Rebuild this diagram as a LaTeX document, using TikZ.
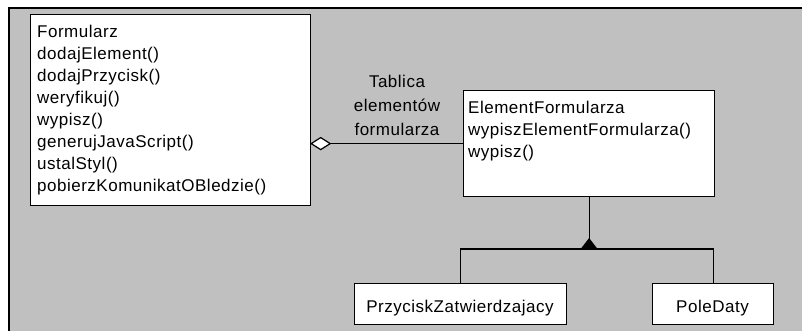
\documentclass[tikz,border=0pt]{standalone}
\usepackage{fontspec}
\setmainfont{Liberation Sans}[LetterSpace=3]
\usetikzlibrary{calc}
\definecolor{panelgray}{HTML}{C0C0C0}
\begin{document}
\begin{tikzpicture}[x=1pt,y=-1pt,
  classbox/.style={draw=black, line width=1.2pt, fill=white, inner sep=0pt, anchor=north west},
  txt/.style={inner sep=0pt, anchor=base west, font=\fontsize{17}{22}\selectfont},
  ctxt/.style={inner sep=0pt, anchor=base, font=\fontsize{17}{22}\selectfont},
  link/.style={draw=black, line width=1.2pt}]
\useasboundingbox (0,0) rectangle (802,330);
% grey panel
\draw[fill=panelgray, line width=1.4pt] (9,8) rectangle (812,340);

% class boxes
\node[classbox, minimum width=280pt, minimum height=191pt] (form) at (30,14) {};
\node[classbox, minimum width=251pt, minimum height=106pt] (elem) at (463,90) {};
\node[classbox, minimum width=212pt, minimum height=41pt] (pz) at (354,283) {};
\node[classbox, minimum width=121pt, minimum height=41pt] (pd) at (652,283) {};

% class texts
\foreach \t [count=\i from 0] in {Formularz,dodajElement(),dodajPrzycisk(),weryfikuj(),wypisz(),generujJavaScript(),ustalStyl(),pobierzKomunikatOBledzie()}
  \node[txt] (f\i) at (37,{37+22*\i}) {\t};
\foreach \t [count=\i from 0] in {ElementFormularza,wypiszElementFormularza(),wypisz()}
  \node[txt] (e\i) at (468,{113+22*\i}) {\t};
\node[ctxt] (pzt) at (460,312) {PrzyciskZatwierdzajacy};
\node[ctxt] (pdt) at (712.5,312) {PoleDaty};

% aggregation
\coordinate (dtip) at (elem.west -| form.east);
\draw[link] (elem.west) -- ($(dtip)+(19,0)$);
\draw[link, fill=white] (dtip) -- ++(9.5,-6) -- ++(9.5,6) -- ++(-9.5,6) -- cycle;
\node[ctxt] (l1) at (397,87) {Tablica};
\node[ctxt] (l2) at (397,111) {elementów};
\node[ctxt] (l3) at (397,135) {formularza};

% generalisation
\coordinate (junc) at (elem.south |- 0,249);
\draw[link] (elem.south) -- (junc);
\draw[link] (pz.north) -- (pz.north |- junc) -- (pd.north |- junc) -- (pd.north);
\fill[black] ($(junc)+(-8.5,0)$) -- ($(junc)+(0,-11)$) -- ($(junc)+(8.5,0)$) -- cycle;
\end{tikzpicture}
\end{document}
